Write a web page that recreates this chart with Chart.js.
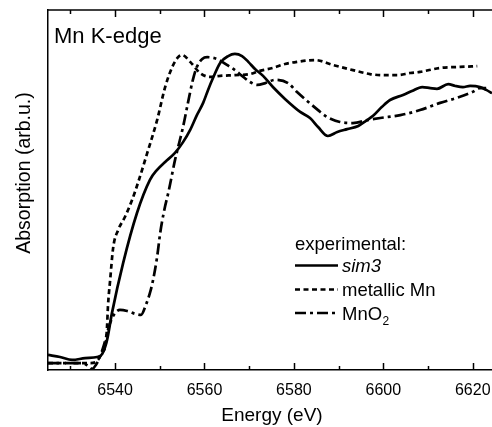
<!DOCTYPE html>
<html>
<head>
<meta charset="utf-8">
<script src="https://cdn.jsdelivr.net/npm/chart.js@4/dist/chart.umd.min.js"></script>
<style>
html,body{margin:0;padding:0;background:#fff;}
#wrap{width:492px;height:427px;position:relative;}
</style>
</head>
<body>
<div id="wrap"><canvas id="c" width="492" height="427"></canvas></div>
<script>
// ---- data (energy in eV, absorption in arbitrary units) ----
const sim3Energy = [6525.0,6527.7,6530.4,6533.3,6536.0,6537.1,6538.2,6539.3,6541.8,6544.9,6547.8,6549.4,6551.2,6553.4,6555.2,6556.8,6558.3,6559.7,6560.8,6561.9,6563.5,6565.3,6566.8,6568.4,6569.8,6571.3,6573.1,6575.3,6578.0,6581.4,6583.6,6585.4,6587.6,6589.7,6591.9,6594.4,6596.1,6597.7,6599.7,6601.5,6604.4,6606.4,6608.7,6610.5,6612.0,6614.5,6616.1,6617.8,6619.4,6621.6,6623.0,6624.3];
const sim3Abs = [0.042,0.036,0.028,0.033,0.036,0.044,0.083,0.158,0.297,0.436,0.528,0.556,0.578,0.603,0.633,0.667,0.708,0.742,0.778,0.811,0.853,0.872,0.878,0.872,0.856,0.836,0.817,0.786,0.753,0.717,0.700,0.675,0.650,0.661,0.669,0.678,0.692,0.706,0.731,0.750,0.764,0.775,0.786,0.783,0.781,0.794,0.789,0.786,0.789,0.786,0.778,0.769];

const mnEnergy = [6525.0,6529.9,6534.4,6536.2,6537.1,6537.8,6538.2,6538.4,6538.9,6539.6,6540.7,6542.2,6543.8,6545.1,6547.2,6549.4,6551.2,6552.8,6554.1,6555.0,6556.8,6559.0,6561.3,6563.5,6566.8,6570.2,6572.4,6575.3,6578.0,6580.7,6584.7,6588.8,6593.2,6597.0,6600.4,6603.1,6606.0,6608.2,6612.7,6617.2,6621.0];
const mnAbs = [0.019,0.019,0.019,0.028,0.050,0.064,0.119,0.175,0.250,0.342,0.389,0.425,0.472,0.519,0.603,0.694,0.786,0.842,0.869,0.875,0.856,0.825,0.814,0.817,0.819,0.822,0.831,0.839,0.850,0.856,0.861,0.847,0.833,0.822,0.819,0.819,0.825,0.828,0.839,0.842,0.844];

const mno2Energy = [6525.0,6528.8,6532.8,6534.0,6534.9,6535.7,6536.6,6537.5,6538.9,6540.0,6541.1,6542.7,6544.5,6545.8,6546.9,6547.8,6548.5,6549.4,6550.1,6551.0,6551.9,6552.5,6553.4,6554.1,6555.2,6556.3,6557.4,6558.3,6559.5,6560.6,6562.8,6565.1,6566.8,6568.4,6570.2,6571.8,6573.6,6575.8,6578.7,6580.7,6583.0,6585.4,6587.4,6590.3,6593.2,6596.4,6599.3,6603.8,6608.2,6612.7,6616.5,6619.9,6621.6,6623.0];
const mno2Abs = [0.019,0.019,0.019,0.011,0.003,0.014,0.036,0.069,0.131,0.158,0.167,0.164,0.156,0.153,0.181,0.214,0.250,0.314,0.381,0.444,0.492,0.528,0.583,0.619,0.675,0.742,0.806,0.842,0.864,0.869,0.864,0.847,0.833,0.817,0.800,0.792,0.797,0.806,0.797,0.772,0.747,0.722,0.703,0.689,0.686,0.694,0.700,0.708,0.722,0.742,0.756,0.772,0.783,0.783];

const xTickValues = [6540,6560,6580,6600,6620];
const seriesLabels = ['sim3','metallic Mn','MnO'];
const legendHeading = 'experimental:';
const panelLabel = 'Mn K-edge';
const xTitle = 'Energy (eV)';
const yTitle = 'Absorption (arb.u.)';

const FONT = '"Liberation Sans", Arial, Helvetica, sans-serif';
const pts = (xs, ys) => xs.map((x, i) => ({x, y: ys[i]}));

const frame = {
  id: 'frame',
  afterDraw(chart) {
    const ctx = chart.ctx, a = chart.chartArea, xs = chart.scales.x;
    ctx.save();
    ctx.strokeStyle = '#000';
    ctx.lineWidth = 1.5;
    // top border
    ctx.beginPath(); ctx.moveTo(a.left, a.top); ctx.lineTo(a.right, a.top); ctx.stroke();
    // inward ticks
    for (let v = 6530; v <= 6620; v += 10) {
      const px = Math.round(xs.getPixelForValue(v)) + 0.5;
      const len = (v % 20 === 0) ? 7 : 4;
      ctx.beginPath(); ctx.moveTo(px, a.bottom); ctx.lineTo(px, a.bottom - len); ctx.stroke();
      ctx.beginPath(); ctx.moveTo(px, a.top); ctx.lineTo(px, a.top + len); ctx.stroke();
    }
    ctx.fillStyle = '#000';
    // panel label
    ctx.font = '22px ' + FONT;
    ctx.textBaseline = 'alphabetic';
    ctx.textAlign = 'left';
    ctx.fillText(panelLabel, 54, 43);
    // axis titles
    ctx.font = '19px ' + FONT;
    ctx.textAlign = 'center';
    ctx.textBaseline = 'middle';
    ctx.fillText(xTitle, 272, 416);
    ctx.save();
    ctx.translate(25, 173);
    ctx.rotate(-Math.PI / 2);
    ctx.font = '19.5px ' + FONT;
    ctx.fillText(yTitle, 0, 0);
    ctx.restore();
    // legend
    ctx.textAlign = 'left';
    ctx.textBaseline = 'alphabetic';
    ctx.font = '18.5px ' + FONT;
    ctx.fillText(legendHeading, 295, 250);
    const rows = [265.5, 289.5, 313];
    chart.data.datasets.forEach((ds, i) => {
      const y = rows[i];
      ctx.save();
      ctx.lineWidth = ds.borderWidth;
      ctx.setLineDash(ds.borderDash || []);
      ctx.beginPath(); ctx.moveTo(295, y); ctx.lineTo(338, y); ctx.stroke();
      ctx.restore();
      ctx.font = (i === 0 ? 'italic ' : '') + '18.5px ' + FONT;
      ctx.fillText(seriesLabels[i], 342, y + 6.5);
      if (i === 2) {
        const w = ctx.measureText(seriesLabels[i]).width;
        ctx.font = '12px ' + FONT;
        ctx.fillText('2', 342 + w + 0.5, y + 12);
      }
    });
    ctx.restore();
  }
};

new Chart(document.getElementById('c'), {
  type: 'line',
  data: {
    datasets: [
      {label: seriesLabels[0], data: pts(sim3Energy, sim3Abs), borderColor: '#000', borderWidth: 2.7, borderDash: []},
      {label: seriesLabels[1], data: pts(mnEnergy, mnAbs), borderColor: '#000', borderWidth: 2.7, borderDash: [5, 3.5]},
      {label: seriesLabels[2] + '2', data: pts(mno2Energy, mno2Abs), borderColor: '#000', borderWidth: 2.7, borderDash: [11, 4, 3, 4]}
    ]
  },
  options: {
    responsive: false,
    animation: false,
    events: [],
    layout: {padding: {top: 10, right: 0, left: 0, bottom: 0}},
    elements: {
      point: {radius: 0},
      line: {cubicInterpolationMode: 'monotone', borderCapStyle: 'butt', fill: false}
    },
    plugins: {legend: {display: false}, tooltip: {enabled: false}, title: {display: false}},
    scales: {
      x: {
        type: 'linear',
        min: 6525,
        max: 6624.3,
        afterFit(s) { s.height = 57; s.paddingLeft = 0; s.paddingRight = 0; },
        afterBuildTicks(s) { s.ticks = xTickValues.map(v => ({value: v})); },
        grid: {display: false, drawTicks: false},
        border: {display: true, color: '#000', width: 1.5},
        ticks: {
          color: '#000',
          font: {family: FONT, size: 16},
          padding: 11,
          maxRotation: 0,
          autoSkip: false,
          callback: v => String(v)
        }
      },
      y: {
        min: 0,
        max: 1,
        afterFit(s) { s.width = 48; },
        grid: {display: false, drawTicks: false},
        border: {display: true, color: '#000', width: 1.5},
        ticks: {display: false}
      }
    }
  },
  plugins: [frame]
});
</script>
</body>
</html>
